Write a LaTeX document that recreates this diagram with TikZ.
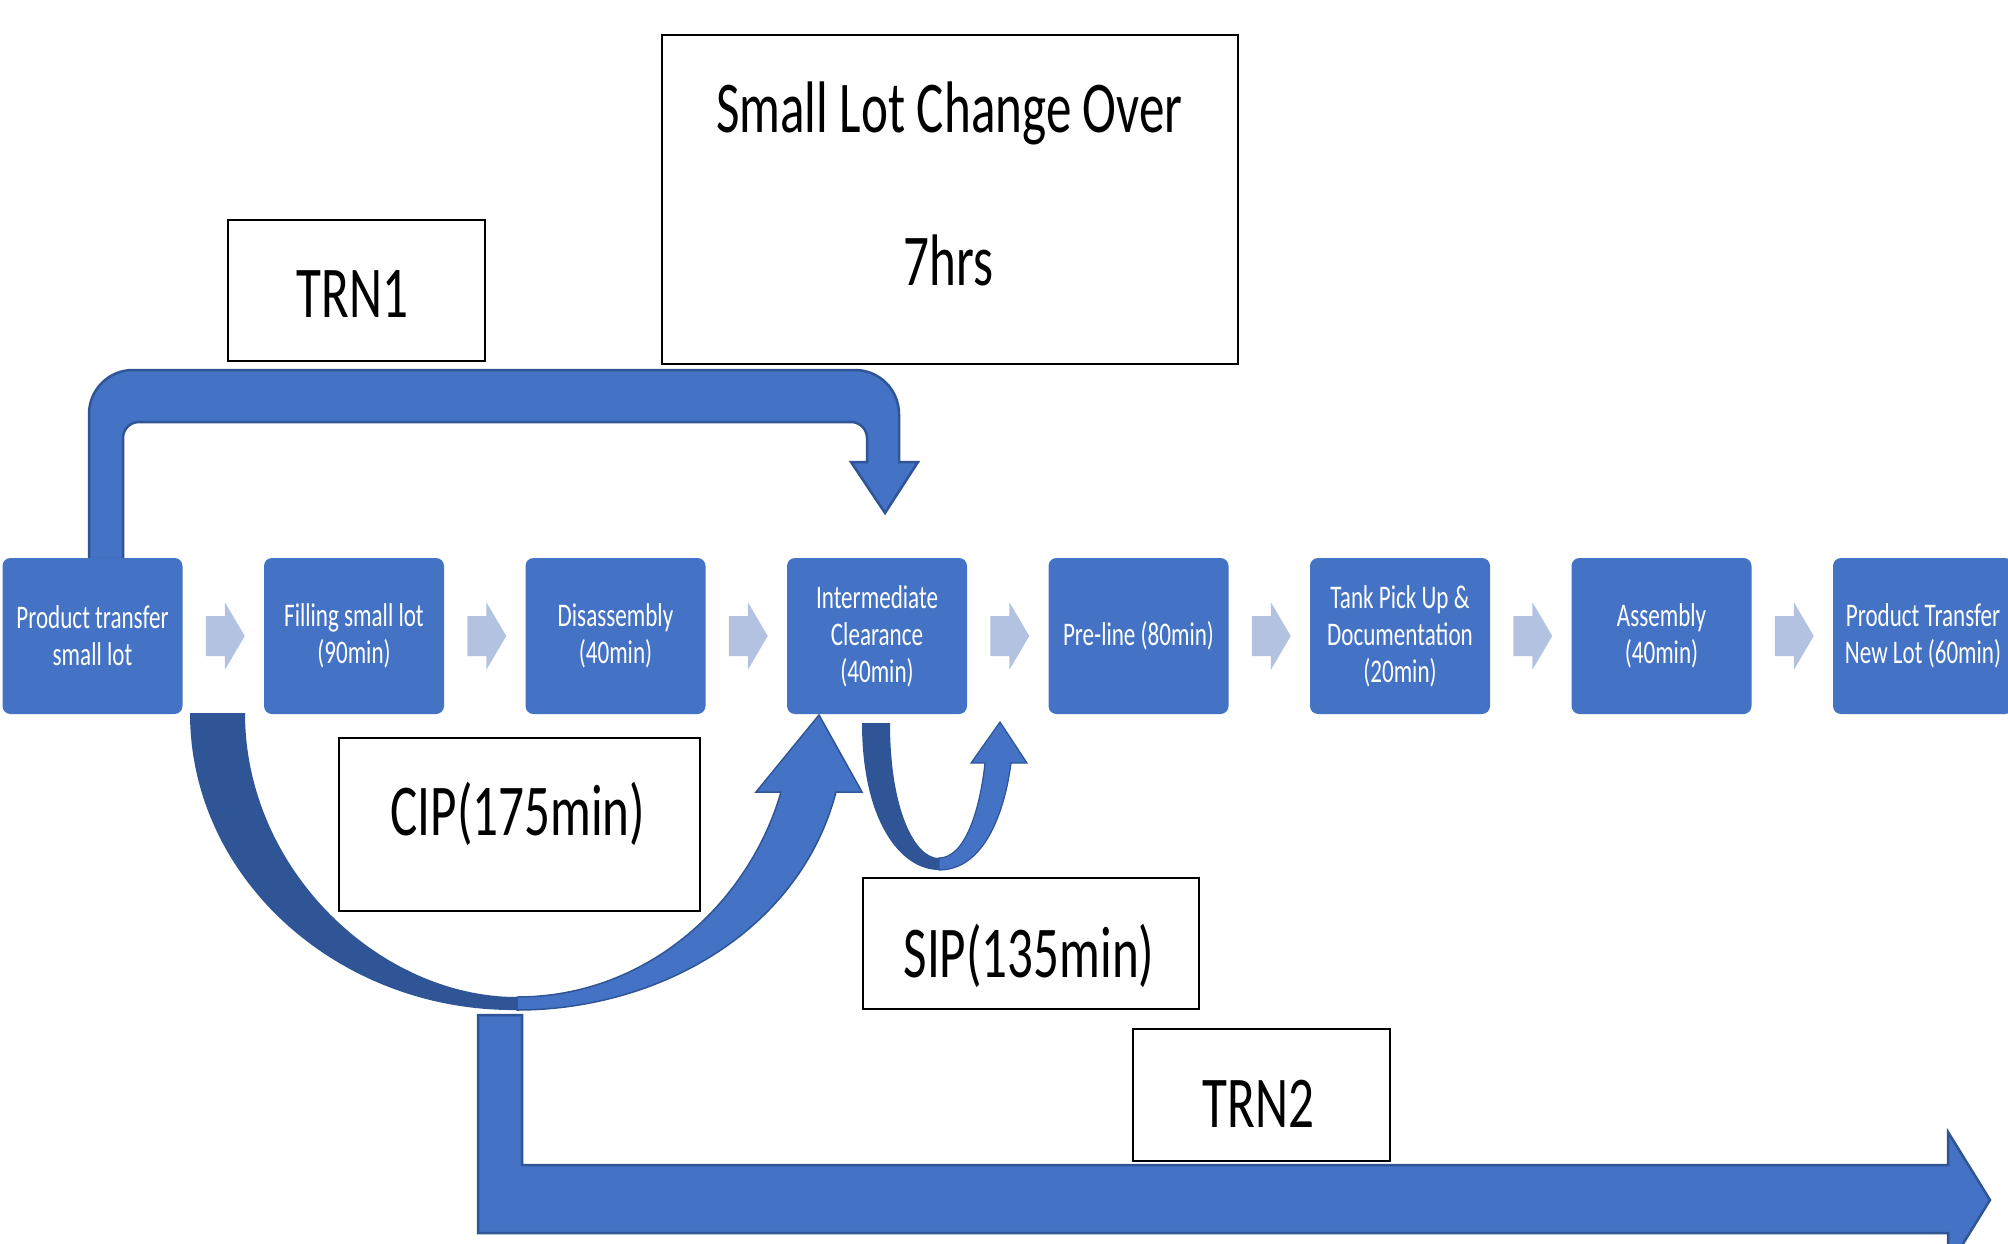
\documentclass[tikz,border=0pt]{standalone}
\usepackage{fontspec}
\newfontfamily\cf[FakeStretch=0.7]{Carlito}
\usetikzlibrary{calc}
\definecolor{pblue}{HTML}{4472C4}
\definecolor{pdark}{HTML}{2F5597}
\definecolor{pchev}{HTML}{B4C2E2}
\begin{document}
\begin{tikzpicture}[x=1pt,y=-1pt,
 proc/.style={fill=pblue, rounded corners=8pt, minimum width=180pt, minimum height=156pt, inner sep=0pt, text=white, align=center, font={\cf\fontsize{33}{37}\selectfont}},
 tbox/.style={draw=black, line width=2.5pt, fill=white, inner sep=0pt},
 lbl/.style={font={\cf\fontsize{73}{88}\selectfont}, inner sep=0pt, anchor=base},
 band/.style={fill=pblue, draw=pdark, line width=2.5pt, line join=miter},
 chev/.style={fill=pchev}]
\clip (0,0) rectangle (2008,1244);
\fill[white] (0,0) rectangle (2008,1244);

% TRN1 bent arrow
\draw[band] (89,559) [rounded corners=44pt] -- (89,370) -- (899,370) [sharp corners] -- (899,462) -- (918,462) -- (885,513) -- (851,462) -- (867,462) [rounded corners=16pt] -- (867,422) -- (123,422) [sharp corners] -- (123,559) -- cycle;

% process boxes
\node[proc] (p1) at (92.5,636) {Product transfer\\small lot};
\node[proc] (p2) at (354,636) {Filling small lot\\(90min)};
\node[proc] (p3) at (615.5,636) {Disassembly\\(40min)};
\node[proc] (p4) at (877,636) {Intermediate\\Clearance\\(40min)};
\node[proc] (p5) at (1138.5,636) {Pre-line (80min)};
\node[proc] (p6) at (1400,636) {Tank Pick Up \&\\Documentation\\(20min)};
\node[proc] (p7) at (1661.5,636) {Assembly\\(40min)};
\node[proc] (p8) at (1923,636) {Product Transfer\\New Lot (60min)};

% chevrons between boxes
\foreach \a/\b in {p1/p2,p2/p3,p3/p4,p4/p5,p5/p6,p6/p7,p7/p8}
  \fill[chev] ($(\a.east)!0.5!(\b.west)+(-17.5,-20)$) -- ++(19,0) -- ++(0,-14) -- ++(20,34) -- ++(-20,34) -- ++(0,-14) -- ++(-19,0) -- cycle;

% TRN2 arrow
\draw[band] (478,1015) -- (522,1015) -- (522,1165) -- (1948,1165) -- (1948,1132) -- (1990,1200) -- (1948,1268) -- (1948,1233) -- (478,1233) -- cycle;

% CIP curved arrow
\fill[pdark] (190,713) -- (245,713) .. controls (245,870) and (380,997) .. (517,997) -- (517,1010) .. controls (340,1012) and (190,880) .. (190,713) -- cycle;
\draw[fill=pblue, draw=pdark, line width=1.5pt, line join=miter] (517,997) .. controls (650,997) and (750,900) .. (781,792) -- (756,792) -- (819,715) -- (862,792) -- (836,792) .. controls (800,930) and (660,1010) .. (517,1010) -- cycle;

% SIP curved arrow
\fill[pdark] (862,723) -- (890,723) .. controls (890,810) and (915,858) .. (939,858) -- (939,870) .. controls (900,870) and (862,820) .. (862,723) -- cycle;
\draw[fill=pblue, draw=pdark, line width=1.2pt, line join=miter] (939,858) .. controls (965,858) and (980,810) .. (985,763) -- (971,763) -- (1000,722) -- (1027,763) -- (1011,763) .. controls (1005,810) and (985,870) .. (939,870) -- cycle;

% text boxes
\node[tbox, minimum width=576pt, minimum height=329pt] (lot) at (950,199.5) {};
\node[lbl] (lott) at (949.5,132) {Small Lot Change Over};
\node[lbl] (lotn) at (948.5,285) {7hrs};
\node[tbox, minimum width=257pt, minimum height=141pt] (trn1) at (356.5,290.5) {};
\node[lbl] (trn1t) at (352.5,317) {TRN1};
\node[tbox, minimum width=361pt, minimum height=173pt] (cip) at (519.5,824.5) {};
\node[lbl] (cipt) at (518,835) {CIP(175min)};
\node[tbox, minimum width=336pt, minimum height=131pt] (sip) at (1031,943.5) {};
\node[lbl] (sipt) at (1029,977) {SIP(135min)};
\node[tbox, minimum width=257pt, minimum height=132pt] (trn2) at (1261.5,1095) {};
\node[lbl] (trn2t) at (1258.5,1127) {TRN2};
\end{tikzpicture}
\end{document}
